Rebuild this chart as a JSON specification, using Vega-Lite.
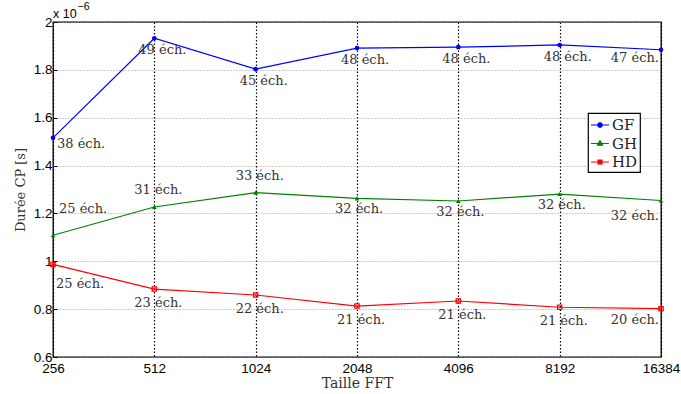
{
  "$schema": "https://vega.github.io/schema/vega-lite/v6.json",
  "autosize": "none",
  "padding": {"left": 53, "top": 22, "right": 20, "bottom": 37},
  "width": 608,
  "height": 335,
  "config": {
    "view": {"stroke": "black", "strokeWidth": 1.3},
    "axis": {"domain": false},
    "legend": {
      "orient": "none", "legendX": 535, "legendY": 91,
      "strokeColor": "black", "strokeWidth": 1.2, "fillColor": "white",
      "padding": 2, "symbolSize": 324, "symbolStrokeWidth": 1.2,
      "labelFont": "DejaVu Serif", "labelFontSize": 15, "labelColor": "#222",
      "labelOffset": 2, "rowPadding": 0.5, "symbolOffset": 0
    }
  },
  "data": {
    "values": [
      {"fft": 256, "algo": "GF", "duree": 1.516, "label": "38 éch."},
      {"fft": 512, "algo": "GF", "duree": 1.932, "label": "49 éch."},
      {"fft": 1024, "algo": "GF", "duree": 1.803, "label": "45 éch."},
      {"fft": 2048, "algo": "GF", "duree": 1.891, "label": "48 éch."},
      {"fft": 4096, "algo": "GF", "duree": 1.895, "label": "48 éch."},
      {"fft": 8192, "algo": "GF", "duree": 1.904, "label": "48 éch."},
      {"fft": 16384, "algo": "GF", "duree": 1.884, "label": "47 éch."},
      {"fft": 256, "algo": "GH", "duree": 1.109, "label": "25 éch."},
      {"fft": 512, "algo": "GH", "duree": 1.227, "label": "31 éch."},
      {"fft": 1024, "algo": "GH", "duree": 1.287, "label": "33 éch."},
      {"fft": 2048, "algo": "GH", "duree": 1.263, "label": "32 éch."},
      {"fft": 4096, "algo": "GH", "duree": 1.252, "label": "32 éch."},
      {"fft": 8192, "algo": "GH", "duree": 1.281, "label": "32 éch."},
      {"fft": 16384, "algo": "GH", "duree": 1.254, "label": "32 éch."},
      {"fft": 256, "algo": "HD", "duree": 0.987, "label": "25 éch."},
      {"fft": 512, "algo": "HD", "duree": 0.884, "label": "23 éch."},
      {"fft": 1024, "algo": "HD", "duree": 0.859, "label": "22 éch."},
      {"fft": 2048, "algo": "HD", "duree": 0.813, "label": "21 éch."},
      {"fft": 4096, "algo": "HD", "duree": 0.834, "label": "21 éch."},
      {"fft": 8192, "algo": "HD", "duree": 0.808, "label": "21 éch."},
      {"fft": 16384, "algo": "HD", "duree": 0.802, "label": "20 éch."}
    ]
  },
  "encoding": {
    "x": {
      "field": "fft", "type": "quantitative",
      "scale": {"type": "log", "base": 2, "domain": [256, 16384], "nice": false},
      "axis": {
        "values": [256, 512, 1024, 2048, 4096, 8192, 16384],
        "format": "d",
        "title": "Taille FFT",
        "titleFont": "DejaVu Serif", "titleFontSize": 14, "titleFontWeight": "normal", "titleColor": "#333",
        "titlePadding": 2,
        "labelFont": "Liberation Sans", "labelFontSize": 13.5, "labelColor": "black",
        "labelPadding": 4, "labelOverlap": false, "labelFlush": false,
        "ticks": false,
        "grid": true, "gridColor": "black", "gridDash": [1.5, 2], "gridWidth": 1.2, "gridOpacity": 1
      }
    },
    "y": {
      "field": "duree", "type": "quantitative",
      "scale": {"domain": [0.6, 2], "nice": false, "zero": false},
      "axis": {
        "values": [0.6, 0.8, 1, 1.2, 1.4, 1.6, 1.8, 2],
        "format": "~g",
        "title": "Durée CP [s]",
        "titleFont": "DejaVu Serif", "titleFontSize": 13, "titleFontWeight": "normal", "titleColor": "#333",
        "titlePadding": 6,
        "labelFont": "Liberation Sans", "labelFontSize": 13.5, "labelColor": "black",
        "labelPadding": 5, "labelFlush": false,
        "ticks": true, "tickSize": -4, "tickColor": "black",
        "grid": true, "gridColor": "#999", "gridDash": [1, 2], "gridWidth": 1, "gridOpacity": 1
      }
    }
  },
  "layer": [
    {
      "mark": {"type": "line", "strokeWidth": 1.2},
      "encoding": {
        "color": {
          "field": "algo", "type": "nominal",
          "scale": {"domain": ["GF", "GH", "HD"], "range": ["#0000ff", "#008000", "#ff0000"]},
          "legend": {"title": null}
        },
        "shape": {
          "field": "algo", "type": "nominal",
          "scale": {
            "domain": ["GF", "GH", "HD"],
            "range": [
              "M-1,0H1M-0.25,0A0.25,0.25 0 1,0 0.25,0A0.25,0.25 0 1,0 -0.25,0Z",
              "M-1,0H1M0,-0.3L0.28,0.18L-0.28,0.18Z",
              "M-1,0H1M-0.22,-0.22H0.22V0.22H-0.22Z"
            ]
          },
          "legend": {"title": null}
        }
      }
    },
    {
      "transform": [{"filter": "datum.algo === 'GF'"}],
      "mark": {"type": "point", "shape": "circle", "filled": true, "size": 22, "opacity": 1},
      "encoding": {"color": {"field": "algo", "type": "nominal", "legend": null}}
    },
    {
      "transform": [{"filter": "datum.algo === 'GH'"}],
      "mark": {"type": "point", "shape": "triangle-up", "filled": true, "size": 22, "opacity": 1},
      "encoding": {"color": {"field": "algo", "type": "nominal", "legend": null}}
    },
    {
      "transform": [{"filter": "datum.algo === 'HD'"}],
      "mark": {"type": "point", "shape": "square", "filled": false, "size": 18, "strokeWidth": 1.3, "opacity": 1},
      "encoding": {"color": {"field": "algo", "type": "nominal", "legend": null}}
    },
    {
      "transform": [{"filter": "datum.algo === 'GF' && datum.fft === 256"}],
      "mark": {"type": "text", "align": "left", "baseline": "middle", "dx": 4, "dy": 6, "font": "DejaVu Serif", "fontSize": 13, "color": "#333"},
      "encoding": {"text": {"field": "label"}}
    },
    {
      "transform": [{"filter": "datum.algo === 'GF' && datum.fft > 256 && datum.fft < 16384"}],
      "mark": {"type": "text", "align": "left", "baseline": "middle", "dx": -16, "dy": 12, "font": "DejaVu Serif", "fontSize": 13, "color": "#333"},
      "encoding": {"text": {"field": "label"}}
    },
    {
      "transform": [{"filter": "datum.algo === 'GF' && datum.fft === 16384"}],
      "mark": {"type": "text", "align": "right", "baseline": "middle", "dx": -2, "dy": 8, "font": "DejaVu Serif", "fontSize": 13, "color": "#333"},
      "encoding": {"text": {"field": "label"}}
    },
    {
      "transform": [{"filter": "datum.algo === 'GH' && datum.fft === 256"}],
      "mark": {"type": "text", "align": "left", "baseline": "middle", "dx": 6, "dy": -26, "font": "DejaVu Serif", "fontSize": 13, "color": "#333"},
      "encoding": {"text": {"field": "label"}}
    },
    {
      "transform": [{"filter": "datum.algo === 'GH' && datum.fft > 256 && datum.fft < 2048"}],
      "mark": {"type": "text", "align": "left", "baseline": "middle", "dx": -20, "dy": -17, "font": "DejaVu Serif", "fontSize": 13, "color": "#333"},
      "encoding": {"text": {"field": "label"}}
    },
    {
      "transform": [{"filter": "datum.algo === 'GH' && datum.fft >= 2048 && datum.fft < 16384"}],
      "mark": {"type": "text", "align": "left", "baseline": "middle", "dx": -22, "dy": 11, "font": "DejaVu Serif", "fontSize": 13, "color": "#333"},
      "encoding": {"text": {"field": "label"}}
    },
    {
      "transform": [{"filter": "datum.algo === 'GH' && datum.fft === 16384"}],
      "mark": {"type": "text", "align": "right", "baseline": "middle", "dx": -2, "dy": 15, "font": "DejaVu Serif", "fontSize": 13, "color": "#333"},
      "encoding": {"text": {"field": "label"}}
    },
    {
      "transform": [{"filter": "datum.algo === 'HD' && datum.fft === 256"}],
      "mark": {"type": "text", "align": "left", "baseline": "middle", "dx": 3, "dy": 20, "font": "DejaVu Serif", "fontSize": 13, "color": "#333"},
      "encoding": {"text": {"field": "label"}}
    },
    {
      "transform": [{"filter": "datum.algo === 'HD' && datum.fft > 256 && datum.fft < 16384"}],
      "mark": {"type": "text", "align": "left", "baseline": "middle", "dx": -20, "dy": 14, "font": "DejaVu Serif", "fontSize": 13, "color": "#333"},
      "encoding": {"text": {"field": "label"}}
    },
    {
      "transform": [{"filter": "datum.algo === 'HD' && datum.fft === 16384"}],
      "mark": {"type": "text", "align": "right", "baseline": "middle", "dx": -2, "dy": 11, "font": "DejaVu Serif", "fontSize": 13, "color": "#333"},
      "encoding": {"text": {"field": "label"}}
    },
    {
      "transform": [{"filter": "datum.algo === 'GF' && datum.fft === 256"}],
      "mark": {"type": "text", "align": "left", "baseline": "middle", "dx": 0, "dy": -8.5, "font": "Liberation Sans", "fontSize": 12.5, "color": "black"},
      "encoding": {"y": {"datum": 2}, "text": {"value": "x 10"}}
    },
    {
      "transform": [{"filter": "datum.algo === 'GF' && datum.fft === 256"}],
      "mark": {"type": "text", "align": "left", "baseline": "middle", "dx": 24.5, "dy": -15.5, "font": "Liberation Sans", "fontSize": 10.5, "color": "black"},
      "encoding": {"y": {"datum": 2}, "text": {"value": "−6"}}
    }
  ]
}
